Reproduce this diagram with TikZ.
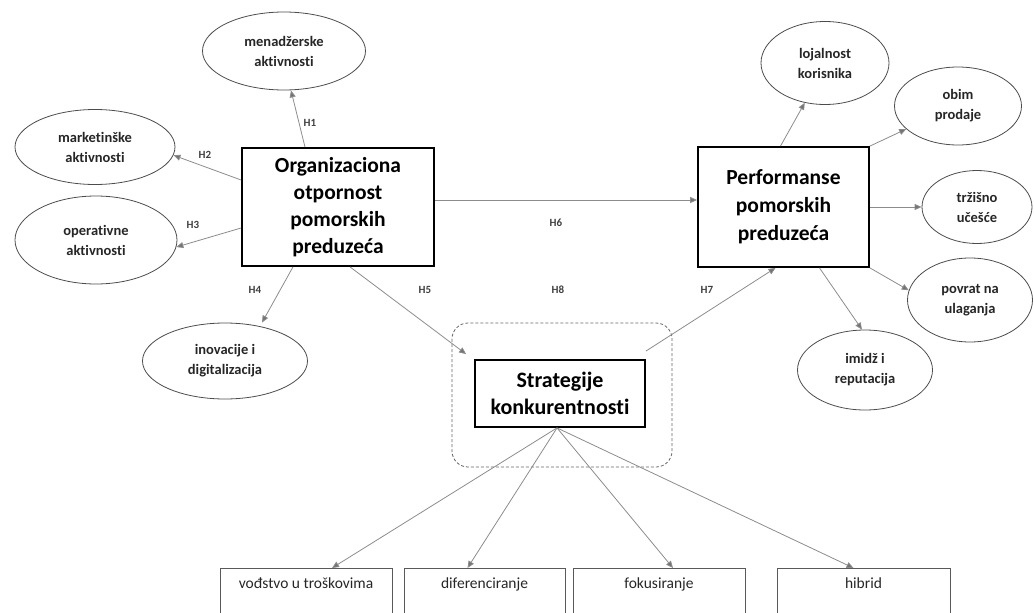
\documentclass[tikz,border=0pt]{standalone}
\usepackage{fontspec}
\setmainfont{Carlito}[Ligatures=NoCommon]
\usetikzlibrary{shapes.geometric,arrows.meta}
\begin{document}
\begin{tikzpicture}[x=1pt,y=-1pt,
        glavni/.style={draw=black,line width=1.8pt,fill=white,align=center,inner sep=0pt,font=\bfseries\fontsize{21.5}{27}\selectfont},
        elipsa/.style={ellipse,draw=black!70,line width=0.8pt,align=center,inner sep=0pt,text=black!85,font=\bfseries\fontsize{14.5}{20}\selectfont},
        kutija/.style={draw=black!65,line width=0.9pt,anchor=north,minimum height=60,inner ysep=9pt,text height=11pt,text depth=40pt,text=black!85,font=\fontsize{15.5}{18}\selectfont},
        veza/.style={draw=black!45,line width=0.8pt,-{Triangle[length=7pt,width=6pt,fill=black!55]}},
        oznaka/.style={text=black!75,font=\bfseries\fontsize{11}{11}\selectfont}]
        \useasboundingbox (0,0) rectangle (1034,613);
        \clip (0,0) rectangle (1034,613);
        \node[glavni,minimum width=192,minimum height=118] (org) at (338,207) {Organizaciona\\otpornost\\pomorskih\\preduzeća};
        \node[glavni,minimum width=171,minimum height=120,font=\bfseries\fontsize{21.5}{28}\selectfont] (perf) at (783.5,207) {Performanse\\pomorskih\\preduzeća};
        \draw[draw=black!60,line width=0.8pt,dash pattern=on 3pt off 2pt,rounded corners=16pt] (452,323) rectangle (672,467);
        \node[glavni,minimum width=170,minimum height=67,font=\bfseries\fontsize{22}{27}\selectfont] (strat) at (560,393.5) {Strategije\\konkurentnosti};
        \node[elipsa,minimum width=163,minimum height=78] (men) at (284,51) {menadžerske\\aktivnosti};
        \node[elipsa,minimum width=160,minimum height=75] (mkt) at (95,147) {marketinške\\aktivnosti};
        \node[elipsa,minimum width=162,minimum height=88] (ops) at (96,240) {operativne\\aktivnosti};
        \node[elipsa,minimum width=165,minimum height=76] (ino) at (225,361) {inovacije i\\digitalizacija};
        \node[elipsa,minimum width=128,minimum height=83] (loj) at (825,63) {lojalnost\\korisnika};
        \node[elipsa,minimum width=127,minimum height=78] (obim) at (958,106) {obim\\prodaje};
        \node[elipsa,minimum width=110,minimum height=73] (trz) at (977,207) {tržišno\\učešće};
        \node[elipsa,minimum width=125,minimum height=84] (pov) at (970,300) {povrat na\\ulaganja};
        \node[elipsa,minimum width=135,minimum height=80] (imi) at (865,370) {imidž i\\reputacija};
        \node[kutija,minimum width=172] (vod) at (306,568) {vođstvo u troškovima};
        \node[kutija,minimum width=161] (dif) at (484.5,568) {diferenciranje};
        \node[kutija,minimum width=172] (fok) at (659,568) {fokusiranje};
        \node[kutija,minimum width=173] (hib) at (863.5,568) {hibrid};
        \draw[veza] ([xshift=-33pt]org.north) -- ([xshift=7pt]men.south);
        \draw[veza] ([yshift=27pt]org.west) -- (mkt.-6);
        \draw[veza] ([yshift=-21pt]org.west) -- (ops.-5);
        \draw[veza] ([xshift=-45pt]org.south) -- ([xshift=37pt]ino.north);
        \draw[veza] ([xshift=12pt]org.south) -- ([xshift=-8pt,yshift=5pt]strat.north west);
        \draw[veza] ([yshift=7pt]org.east) -- ([yshift=7pt]perf.west);
        \draw[veza] ([yshift=8pt]strat.north east) -- ([xshift=-8pt]perf.south);
        \draw[veza] ([xshift=-3pt]perf.north) -- (loj.-117);
        \draw[veza] (perf.north east) -- (obim.-156);
        \draw[veza] (perf.east) -- (trz.west);
        \draw[veza] (perf.south east) -- (pov.171);
        \draw[veza] ([xshift=36pt]perf.south) -- ([xshift=-3pt]imi.north);
        \draw[veza] ([xshift=-3pt]strat.south) -- ([xshift=26pt]vod.north);
        \draw[veza] ([xshift=-3pt]strat.south) -- ([xshift=-17pt]dif.north);
        \draw[veza] ([xshift=-3pt]strat.south) -- ([xshift=14pt]fok.north);
        \draw[veza] ([xshift=-3pt]strat.south) -- ([xshift=-10pt]hib.north);
        \node[oznaka] (h1) at (310,123) {H1};
        \node[oznaka] (h2) at (205,155) {H2};
        \node[oznaka] (h3) at (193,225) {H3};
        \node[oznaka] (h4) at (255,290) {H4};
        \node[oznaka] (h5) at (425,290) {H5};
        \node[oznaka] (h6) at (556,223) {H6};
        \node[oznaka] (h8) at (558,290) {H8};
        \node[oznaka] (h7) at (707,290) {H7};
    \end{tikzpicture}
\end{document}
